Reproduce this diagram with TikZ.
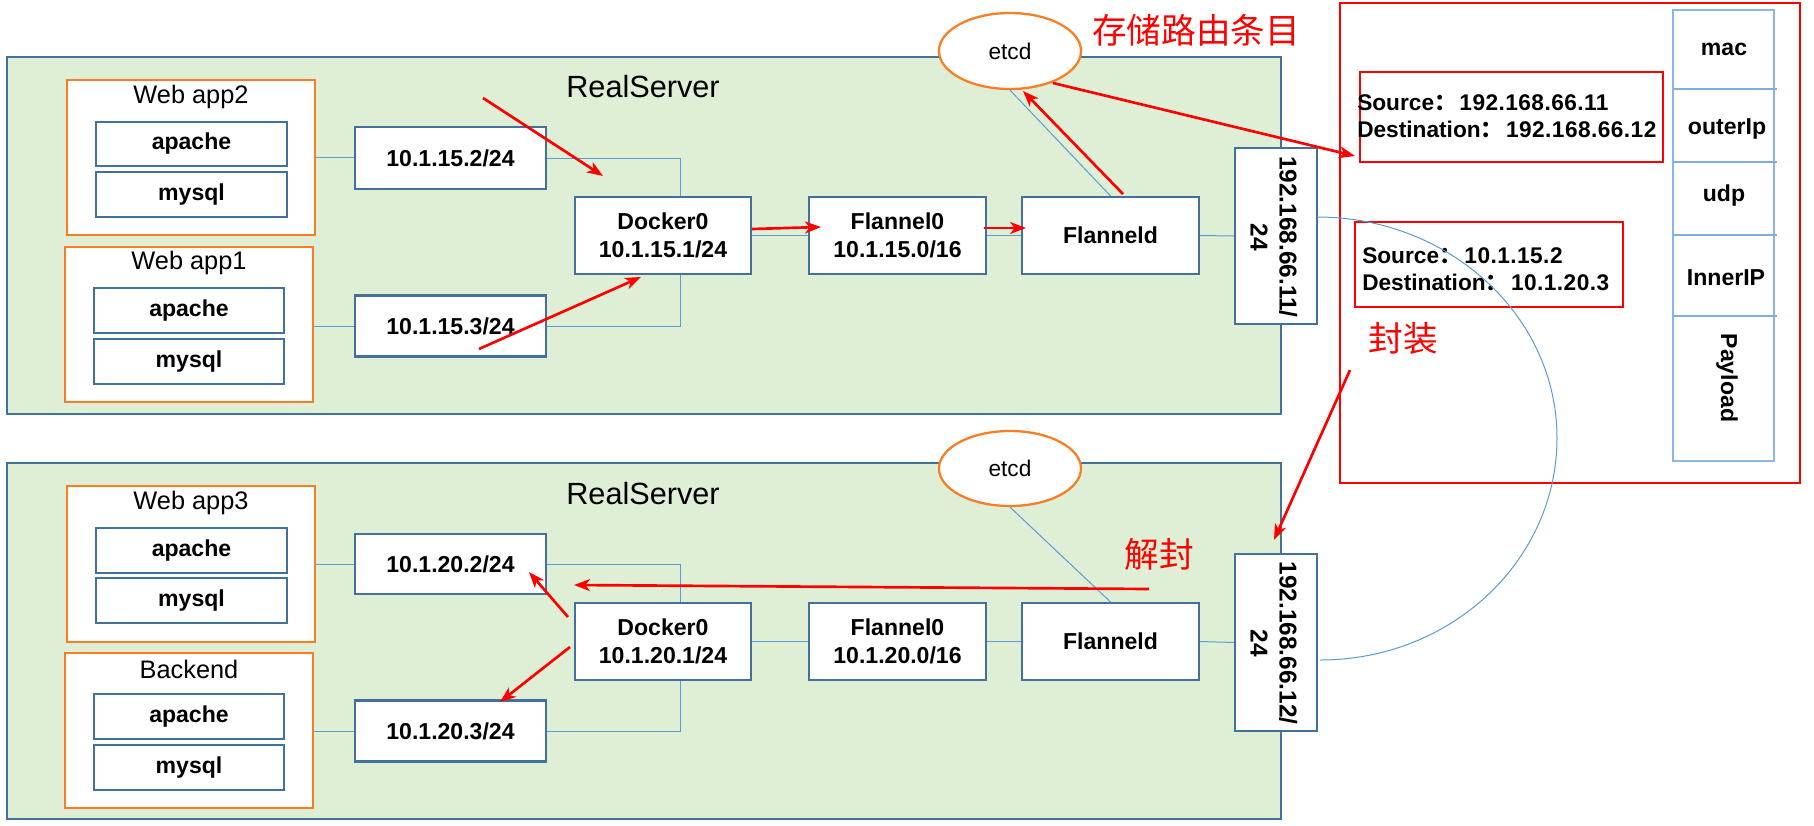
\documentclass[tikz,border=0pt]{standalone}
\usepackage{fontspec}
\setmainfont{Liberation Sans}
\newfontfamily\cjk{Noto Sans CJK SC}
\usetikzlibrary{arrows.meta,shapes.geometric,calc}
\definecolor{srvblue}{RGB}{65,113,156}
\definecolor{srvgreen}{RGB}{222,239,214}
\definecolor{apporange}{RGB}{250,125,35}
\definecolor{linkblue}{RGB}{91,155,213}
\definecolor{stackblue}{RGB}{142,180,227}
\newcommand{\fbold}{\fontsize{17.3pt}{21pt}\selectfont\bfseries}
\newcommand{\fipbold}{\fontsize{18.3pt}{21.8pt}\selectfont\bfseries}
\newcommand{\fpanel}{\fontsize{17pt}{20.25pt}\selectfont\bfseries}
\newcommand{\fapp}{\fontsize{19pt}{23pt}\selectfont}
\newcommand{\freal}{\fontsize{23pt}{27pt}\selectfont}
\newcommand{\fetcd}{\fontsize{17pt}{20pt}\selectfont}
\newcommand{\fcjk}{\cjk\fontsize{26pt}{30pt}\selectfont}
\newcommand{\fcolon}{\makebox[19pt][l]{\cjk ：}}
\newcommand{\wide}[1]{{\addfontfeatures{LetterSpace=2}#1}}
\tikzset{
  sz/.style 2 args={minimum width=#1*0.75pt, minimum height=#2*0.75pt},
  server/.style={draw=srvblue, line width=1.5pt, fill=srvgreen, inner sep=0pt},
  box/.style={draw=srvblue, line width=1.6pt, fill=white, font=\fbold, align=center, inner sep=0pt},
  appbox/.style={draw=apporange, line width=1.7pt, fill=white, inner sep=0pt},
  applabel/.style={font=\fapp, inner sep=0pt},
  link/.style={draw=linkblue, line width=0.75pt},
  etcdnode/.style={ellipse, draw=apporange, line width=1.7pt, fill=white, font=\fetcd, inner sep=0pt},
  redarrow/.style={draw=red, line width=2pt, -{Stealth[length=12pt,width=9pt,inset=3.5pt]}},
  redbox/.style={draw=red, line width=0.8pt, inner sep=0pt},
  stackbox/.style={draw=stackblue, line width=2pt, inner sep=0pt},
  stacksep/.style={draw=linkblue!80!white, line width=1.1pt},
  stacklabel/.style={font=\fbold, inner sep=0pt},
  cjklabel/.style={font=\fcjk, text=red, inner sep=0pt},
}
\begin{document}
\begin{tikzpicture}[x=0.75pt,y=-0.75pt]
\useasboundingbox (0,0) rectangle (1814,825);
\fill[white] (0,0) rectangle (1814,825);

% servers
\node[server, sz={1274}{357}] (srvA) at (644,235.5) {};
\node[server, sz={1274}{356}] (srvB) at (644,641) {};
\node[font=\freal, inner sep=0pt] (rsA) at (643,87) {RealServer};
\node[font=\freal, inner sep=0pt] (rsB) at (643,494) {RealServer};

% ---------- top server nodes ----------
\node[appbox, sz={248}{155}] (app2) at (191,157.5) {};
\node[applabel] (app2l) at (191,97) {Web app2};
\node[box, sz={191}{44}] (apache2) at (191.5,144) {apache};
\node[box, sz={191}{45}] (mysql2) at (191.5,194.5) {mysql};
\node[appbox, sz={248}{155}] (app1) at (189,324.5) {};
\node[applabel] (app1l) at (189,263) {Web app1};
\node[box, sz={190}{45}] (apache1) at (189,310.5) {apache};
\node[box, sz={190}{45}] (mysql1) at (189,361.5) {mysql};

\node[box, sz={191}{62}] (ip152) at (450.5,158) {10.1.15.2/24};
\node[box, sz={191}{61}] (ip153) at (450.5,326) {10.1.15.3/24};
\node[box, sz={176}{77}] (dockA) at (663,235.5) {Docker0\\10.1.15.1/24};
\node[box, sz={177}{77}] (flA) at (897.5,235.5) {Flannel0\\10.1.15.0/16};
\node[box, sz={177}{77}] (fldA) at (1110.5,235.5) {Flanneld};
\node[box, sz={82}{176}] (ipA) at (1276,236) {};
\node[font=\fipbold, rotate=-90, align=center, inner sep=0pt] (ipAt) at (1274,237) {192.168.66.11/\\24};
\node[etcdnode, sz={142}{76}] (etcdA) at (1010,51) {etcd};

% ---------- bottom server nodes ----------
\node[appbox, sz={248}{156}] (app3) at (191,564) {};
\node[applabel] (app3l) at (191,503) {Web app3};
\node[box, sz={191}{45}] (apache3) at (191.5,550.5) {apache};
\node[box, sz={191}{45}] (mysql3) at (191.5,600.5) {mysql};
\node[appbox, sz={248}{155}] (backend) at (189,730.5) {};
\node[applabel] (backendl) at (189,669) {Backend};
\node[box, sz={190}{45}] (apache4) at (189,716.5) {apache};
\node[box, sz={190}{45}] (mysql4) at (189,767.5) {mysql};

\node[box, sz={191}{60}] (ip202) at (450.5,564) {10.1.20.2/24};
\node[box, sz={191}{61}] (ip203) at (450.5,731) {10.1.20.3/24};
\node[box, sz={176}{77}] (dockB) at (663,641.5) {Docker0\\10.1.20.1/24};
\node[box, sz={177}{77}] (flB) at (897.5,641.5) {Flannel0\\10.1.20.0/16};
\node[box, sz={177}{77}] (fldB) at (1110.5,641.5) {Flanneld};
\node[box, sz={82}{177}] (ipB) at (1276,642.5) {};
\node[font=\fipbold, rotate=-90, align=center, inner sep=0pt] (ipBt) at (1274,643) {192.168.66.12/\\24};
\node[etcdnode, sz={142}{75}] (etcdB) at (1010,468.5) {etcd};

% ---------- blue connectors ----------
\draw[link] (app2.east) -- (app2.east -| ip152.west);
\draw[link] (ip153.west -| app1.east) -- (ip153.west);
\draw[link] (ip152.east) -| ([xshift=12.75pt]dockA.north);
\draw[link] (ip153.east) -| ([xshift=12.75pt]dockA.south);
\draw[link] (dockA.east) -- (flA.west);
\draw[link] (flA.east) -- (fldA.west);
\draw[link] (fldA.east) -- (ipA.west);
\draw[link] (fldA.north) -- (etcdA.south);

\draw[link] (app3.east) -- (app3.east -| ip202.west);
\draw[link] (ip203.west -| backend.east) -- (ip203.west);
\draw[link] (ip202.east) -| ([xshift=12.75pt]dockB.north);
\draw[link] (ip203.east) -| ([xshift=12.75pt]dockB.south);
\draw[link] (dockB.east) -- (flB.west);
\draw[link] (flB.east) -- (fldB.west);
\draw[link] (fldB.east) -- (ipB.west);
\draw[link] (etcdB.south) -- (fldB.north);

% ---------- right panel ----------
\node[redbox, sz={460}{480}] (panel) at (1570,243) {};
\node[redbox, sz={303}{90}] (hdrOuter) at (1511.5,117) {};
\node[redbox, sz={268}{85}] (hdrInner) at (1489,264.5) {};
\node[font=\fpanel, anchor=west, align=left, inner sep=0pt] (outerTxt) at (1357,116.5)
  {Source\fcolon\wide{192.168.66.11}\\Destination\fcolon\wide{192.168.66.12}};
\node[font=\fpanel, anchor=west, align=left, inner sep=0pt] (innerTxt) at (1362,269.5)
  {Source\fcolon\wide{10.1.15.2}\\Destination\fcolon\wide{10.1.20.3}};

\node[stackbox, sz={101}{451}] (stk) at (1723.5,235.5) {};
\draw[stacksep] (1673,89) -- (1777,89);
\draw[stacksep] (1673,162) -- (1777,162);
\draw[stacksep] (1673,235) -- (1777,235);
\draw[stacksep] (1673,316) -- (1777,316);
\node[stacklabel] (lmac) at (1724,49) {mac};
\node[stacklabel] (louter) at (1727,129) {outerIp};
\node[stacklabel] (ludp) at (1724,196) {udp};
\node[stacklabel] (linner) at (1726,278) {InnerIP};
\node[stacklabel, rotate=-90] (lpay) at (1727,378) {Payload};

% tunnel arc
\coordinate (arcS) at (1317,217);
\coordinate (arcE) at (1320,660);
\draw[link] (arcS) .. controls (1449.5,217) and (1557,316) .. (1557,438)
                   .. controls (1557,560) and (1452,660) .. (arcE);

% ---------- Chinese labels ----------
\node[cjklabel] (tStore) at (1196,30) {存储路由条目};
\node[cjklabel] (tPack) at (1403,338) {封装};
\node[cjklabel] (tUnpack) at (1159,554) {解封};

% ---------- red arrows ----------
\coordinate (r1s) at (483,98);   \coordinate (r1e) at (603,176);
\coordinate (r2s) at (479,349);  \coordinate (r2e) at (641,277);
\coordinate (r3s) at (752,229);  \coordinate (r3e) at (821,227);
\coordinate (r4s) at (984,228);  \coordinate (r4e) at (1026,228);
\coordinate (r5s) at (1123,194); \coordinate (r5e) at (1023,91);
\coordinate (r6s) at (1053,83);  \coordinate (r6e) at (1355,156);
\coordinate (r7s) at (1350,370); \coordinate (r7e) at (1274,540);
\coordinate (r8s) at (1149,589); \coordinate (r8e) at (574,585);
\coordinate (r9s) at (568,617);  \coordinate (r9e) at (529,572);
\coordinate (r10s) at (570,647); \coordinate (r10e) at (500,702);
\draw[redarrow] (r1s) -- (r1e);
\draw[redarrow] (r2s) -- (r2e);
\draw[redarrow] (r3s) -- (r3e);
\draw[redarrow] (r4s) -- (r4e);
\draw[redarrow] (r5s) -- (r5e);
\draw[redarrow] (r6s) -- (r6e);
\draw[redarrow] (r7s) -- (r7e);
\draw[redarrow] (r8s) -- (r8e);
\draw[redarrow] (r9s) -- (r9e);
\draw[redarrow] (r10s) -- (r10e);
\end{tikzpicture}
\end{document}
